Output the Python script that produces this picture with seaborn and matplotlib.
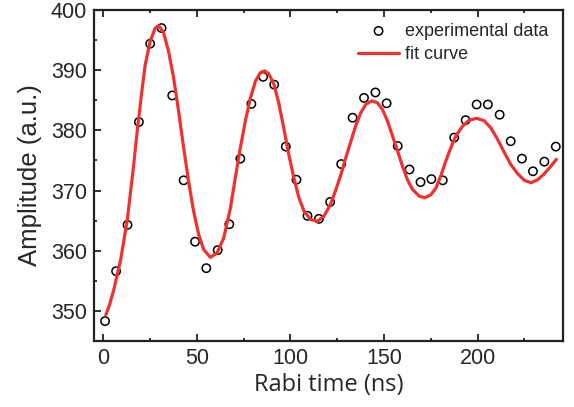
import numpy as np
import pandas as pd
import matplotlib
matplotlib.use('Agg')
import matplotlib.pyplot as plt
import matplotlib.ticker as mtick
import seaborn as sns

# measured points
t_exp = [0.9, 6.8, 12.9, 19.0, 25.0, 31.1, 36.8, 42.9, 49.0, 55.0, 61.1, 67.3, 73.2, 79.1,
         85.4, 91.3, 97.5, 103.2, 109.1, 115.2, 121.2, 127.1, 133.2, 139.3, 145.4, 151.4,
         157.3, 163.6, 169.5, 175.3, 181.4, 187.5, 193.6, 199.5, 205.5, 211.8, 217.7, 223.7,
         229.6, 235.7, 241.8]
amp_exp = [348.3, 356.6, 364.3, 381.4, 394.4, 397.0, 385.8, 371.7, 361.5, 357.1, 360.1, 364.4,
           375.3, 384.4, 388.9, 387.6, 377.3, 371.8, 365.8, 365.3, 368.1, 374.4, 382.1, 385.4,
           386.3, 384.5, 377.4, 373.5, 371.4, 371.9, 371.7, 378.8, 381.7, 384.3, 384.3, 382.6,
           378.2, 375.3, 373.2, 374.8, 377.3]

# fit curve
t_fit = [1.3, 3.5, 5.7, 9.3, 12.9, 16.1, 18.2, 20.6, 22.3, 25.0, 27.7, 29.5, 32.1, 34.8,
         37.5, 40.2, 42.9, 45.5, 48.2, 50.9, 53.6, 57.2, 60.7, 64.3, 67.9, 70.5, 73.2, 75.9,
         78.6, 81.3, 83.9, 86.1, 88.4, 91.1, 93.7, 96.4, 99.1, 101.8, 104.5, 107.2, 110.7,
         114.3, 117.8, 121.4, 124.1, 127.1, 129.6, 132.1, 134.8, 137.5, 140.2, 143.4, 146.4,
         149.1, 151.8, 154.5, 157.2, 159.8, 162.5, 165.2, 168.7, 171.8, 175.0, 177.7, 180.3,
         183.0, 185.7, 188.4, 192.0, 195.5, 199.6, 203.5, 207.1, 210.7, 214.3, 217.8, 221.4,
         225.0, 228.5, 232.1, 235.7, 239.3, 242.1]
amp_fit = [349.3, 351.2, 353.7, 358.6, 365.4, 374.0, 380.2, 386.6, 390.8, 394.8, 397.0, 397.4,
           396.3, 393.2, 388.8, 383.2, 377.1, 371.6, 366.6, 362.7, 360.2, 358.9, 359.6, 362.1,
           367.1, 372.1, 377.1, 381.6, 385.4, 388.2, 389.6, 389.9, 389.4, 387.7, 384.6, 380.4,
           376.0, 372.1, 368.8, 366.6, 365.2, 364.9, 365.7, 367.7, 370.0, 372.8, 375.5, 378.0,
           380.7, 382.9, 384.3, 384.9, 384.6, 383.5, 381.6, 379.1, 376.6, 374.1, 371.8, 370.2,
           369.1, 368.8, 369.3, 370.4, 372.4, 374.9, 377.1, 379.1, 380.7, 381.7, 382.0, 381.6,
           380.4, 378.5, 376.3, 374.3, 372.8, 371.7, 371.3, 371.8, 372.8, 374.1, 375.2]

df_exp = pd.DataFrame({'t': t_exp, 'amp': amp_exp})
df_fit = pd.DataFrame({'t': t_fit, 'amp': amp_fit})

sns.set_style('ticks')
plt.rcParams['font.family'] = ['Liberation Sans', 'DejaVu Sans']

fig = plt.figure(figsize=(5.74, 4.07), dpi=100)
ax = fig.add_axes([0.1638, 0.1622, 0.8172, 0.8132])

sns.scatterplot(data=df_exp, x='t', y='amp', ax=ax, marker='o', s=36,
                facecolor='none', edgecolor='black', linewidth=1.1,
                label='experimental data', zorder=2)
sns.lineplot(data=df_fit, x='t', y='amp', ax=ax, color='#ee3232', linewidth=2.3,
             label='fit curve', sort=False, zorder=3)

ax.set_xlim(-5, 245.7)
ax.set_ylim(345, 400)
ax.xaxis.set_major_locator(mtick.MultipleLocator(50))
ax.xaxis.set_minor_locator(mtick.MultipleLocator(25))
ax.yaxis.set_major_locator(mtick.MultipleLocator(10))
ax.yaxis.set_minor_locator(mtick.MultipleLocator(5))
ax.set_yticks(range(350, 401, 10))

ax.tick_params(which='both', direction='in', top=True, right=False, width=1.3, color='#222222')
ax.tick_params(which='major', length=5, labelsize=15.5, pad=5)
ax.tick_params(which='minor', length=2.5)
for s in ax.spines.values():
    s.set_linewidth(1.6)
    s.set_color('#222222')

ax.set_xlabel('Rabi time (ns)', fontsize=17, family='Open Sans', labelpad=3)
ax.set_ylabel('Amplitude (a.u.)', fontsize=18.5, labelpad=6)

ax.legend(loc='upper right', frameon=False, fontsize=13, handlelength=2.3,
          handletextpad=0.3, borderaxespad=0.3, labelspacing=0.35,
          bbox_to_anchor=(0.995, 1.0))

fig.savefig('out.png', dpi=100)
